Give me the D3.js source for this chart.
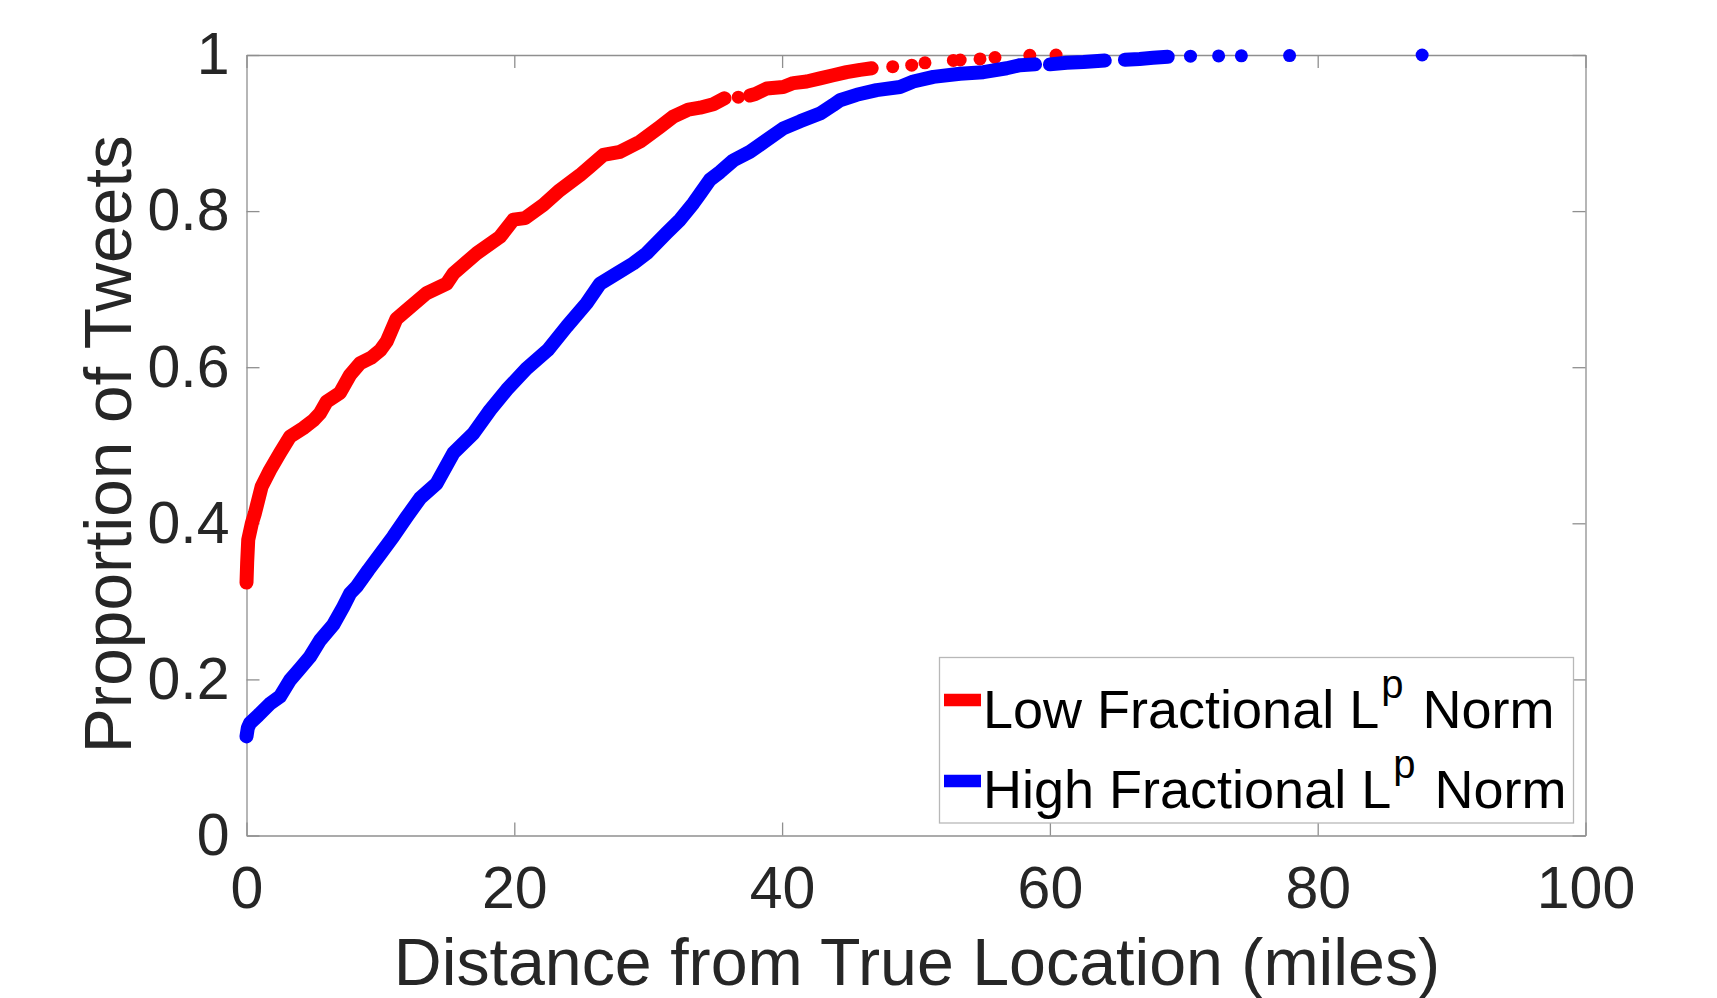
<!DOCTYPE html>
<html>
<head>
<meta charset="utf-8">
<script src="https://cdn.jsdelivr.net/npm/d3@7/dist/d3.min.js"></script>
<style>
  html, body { margin: 0; padding: 0; background: #fff; }
  svg { display: block; }
  text { font-family: "Liberation Sans", Arial, Helvetica, sans-serif; }
</style>
</head>
<body>
<svg id="chart" width="1717" height="998"></svg>
<script>
// ---------------- data ----------------
const xTicks = [0, 20, 40, 60, 80, 100];
const xTickLabels = ["0", "20", "40", "60", "80", "100"];
const yTicks = [0, 0.2, 0.4, 0.6, 0.8, 1];
const yTickLabels = ["0", "0.2", "0.4", "0.6", "0.8", "1"];

const seriesNames = ["Low Fractional L", "High Fractional L"];

// Low fractional Lp norm: dense runs of overlapping markers
const redRun1 = [[0,0.324],[0.05,0.35],[0.13,0.379],[0.4,0.40],[0.63,0.413],[1.13,0.447],[1.75,0.468],
  [2.5,0.49],[3.25,0.511],[4.24,0.522],[5.0,0.532],[5.49,0.541],[5.99,0.556],[6.98,0.567],[7.73,0.59],
  [8.48,0.605],[9.3,0.612],[10.0,0.622],[10.47,0.633],[11.2,0.662],[11.96,0.673],[13.46,0.695],
  [14.95,0.707],[15.45,0.72],[17.2,0.746],[18.93,0.767],[19.93,0.789],[20.8,0.791],[22.17,0.808],
  [23.41,0.827],[24.9,0.846],[25.65,0.857],[26.65,0.872],[27.9,0.876],[29.39,0.889],[30.88,0.908],
  [31.87,0.921],[33.0,0.93],[33.87,0.9325],[34.86,0.937],[35.7,0.9445]];
const redRun2 = [[37.6,0.948],[38.0,0.950],[38.85,0.957],[40.09,0.959],[40.84,0.964],[41.84,0.966],
  [42.83,0.970],[43.82,0.974],[44.82,0.978],[45.82,0.981],[46.69,0.983]];
// isolated markers
const redDots = [[36.73,0.946],[48.26,0.985],[49.68,0.987],[50.67,0.990],[52.79,0.993],[53.3,0.9936],
  [54.78,0.995],[55.9,0.9968],[58.5,0.9997],[60.46,1.0]];

// High fractional Lp norm
const blueRun1 = [[0,0.127],[0.1,0.138],[0.26,0.144],[0.88,0.154],[1.76,0.169],[2.5,0.178],[3.25,0.199],
  [4.0,0.214],[4.74,0.229],[5.49,0.25],[6.48,0.27],[7.23,0.293],[7.73,0.31],[8.23,0.319],[9.1,0.34],
  [9.97,0.36],[10.96,0.383],[11.96,0.408],[12.96,0.432],[14.2,0.451],[15.45,0.49],[16.94,0.515],
  [18.19,0.545],[19.43,0.571],[20.9,0.598],[22.5,0.622],[23.91,0.652],[25.4,0.682],[26.4,0.707],
  [27.65,0.720],[28.89,0.733],[29.89,0.746],[31.38,0.772],[32.38,0.789],[33.37,0.810],[33.87,0.822],
  [34.6,0.84],[35.36,0.850],[36.36,0.865],[37.6,0.876],[38.85,0.891],[40.09,0.906],[41.34,0.915],
  [42.83,0.925],[43.82,0.936],[44.32,0.942],[45.57,0.949],[47.06,0.955],[48.8,0.959],[49.8,0.966],
  [51.3,0.972],[53.29,0.976],[55.03,0.978],[56.77,0.983],[57.77,0.987],[58.89,0.988]];
const blueRun2 = [[60.0,0.988],[61.25,0.990],[62.5,0.991],[64.1,0.993]];
const blueRun3 = [[65.6,0.994],[66.7,0.995],[67.7,0.9964],[68.8,0.9977]];
const blueDots = [[70.5,0.9985],[72.6,0.9988],[74.3,0.999],[77.9,0.9993],[87.8,1.0]];

const redColor = "#ff0000";
const blueColor = "#0000ff";

// ---------------- layout ----------------
const svg = d3.select("#chart");
const L = 246.5, R = 1585.5, T = 55, B = 835.5;
const x = d3.scaleLinear().domain([0, 100]).range([L, R]);
const y = d3.scaleLinear().domain([0, 1]).range([B, T]);

const axisColor = "#8f8f8f";
const textColor = "#262626";
const tickLen = 13;

function styleAxis(g) {
  g.select(".domain").attr("stroke", axisColor).attr("stroke-width", 1.3);
  g.selectAll(".tick line").attr("stroke", axisColor).attr("stroke-width", 1.3);
  g.selectAll("text").attr("fill", textColor).attr("font-size", 59)
    .attr("font-family", '"Liberation Sans", Arial, Helvetica, sans-serif');
}

svg.append("g").attr("transform", `translate(0,${B})`)
  .call(d3.axisBottom(x).tickValues(xTicks).tickFormat((d, i) => xTickLabels[i])
    .tickSizeInner(-tickLen).tickSizeOuter(0).tickPadding(31))
  .call(styleAxis);
svg.append("g").attr("transform", `translate(${L},0)`)
  .call(d3.axisLeft(y).tickValues(yTicks).tickFormat((d, i) => yTickLabels[i])
    .tickSizeInner(-tickLen).tickSizeOuter(0).tickPadding(17))
  .call(styleAxis);
svg.append("g").attr("transform", `translate(0,${T})`)
  .call(d3.axisTop(x).tickValues(xTicks).tickFormat("").tickSizeInner(-tickLen).tickSizeOuter(0))
  .call(styleAxis);
svg.append("g").attr("transform", `translate(${R},0)`)
  .call(d3.axisRight(y).tickValues(yTicks).tickFormat("").tickSizeInner(-tickLen).tickSizeOuter(0))
  .call(styleAxis);

// axis titles
svg.append("text")
  .attr("x", (L + R) / 2 + 1).attr("y", 985)
  .attr("text-anchor", "middle").attr("font-size", 66.3).attr("fill", textColor)
  .text("Distance from True Location (miles)");
svg.append("text")
  .attr("transform", `translate(131,${(T + B) / 2 - 1}) rotate(-90)`)
  .attr("text-anchor", "middle").attr("font-size", 67.5).attr("fill", textColor)
  .text("Proportion of Tweets");

// ---------------- data marks ----------------
const lineW = 14;
const dotR = 6.5;
const line = d3.line().x(d => x(d[0])).y(d => y(d[1]));
function drawSeries(runs, dots, color) {
  const g = svg.append("g");
  g.selectAll("path").data(runs).join("path")
    .attr("d", line).attr("fill", "none").attr("stroke", color)
    .attr("stroke-width", lineW).attr("stroke-linecap", "round").attr("stroke-linejoin", "round");
  g.selectAll("circle").data(dots).join("circle")
    .attr("cx", d => x(d[0])).attr("cy", d => y(d[1])).attr("r", dotR)
    .attr("fill", color);
}
drawSeries([redRun1, redRun2], redDots, redColor);
drawSeries([blueRun1, blueRun2, blueRun3], blueDots, blueColor);

// ---------------- legend ----------------
const lg = svg.append("g");
lg.append("rect").attr("x", 939.5).attr("y", 657.5).attr("width", 634).attr("height", 165.5)
  .attr("fill", "#fff").attr("stroke", "#b8b8b8").attr("stroke-width", 1.3);
const rows = [{ name: seriesNames[0], color: redColor, cy: 700, base: 728.3 },
              { name: seriesNames[1], color: blueColor, cy: 781, base: 808.3 }];
rows.forEach(r => {
  lg.append("line").attr("x1", 944).attr("x2", 981).attr("y1", r.cy).attr("y2", r.cy)
    .attr("stroke", r.color).attr("stroke-width", 12.5);
  const t = lg.append("text").attr("x", 983).attr("y", r.base)
    .attr("font-size", 54).attr("fill", "#000");
  t.append("tspan").text(r.name);
  t.append("tspan").attr("font-size", 40).attr("dy", -30).attr("dx", 2).text("p");
  t.append("tspan").attr("dy", 30).attr("dx", 4).text(" Norm");
});
</script>
</body>
</html>
